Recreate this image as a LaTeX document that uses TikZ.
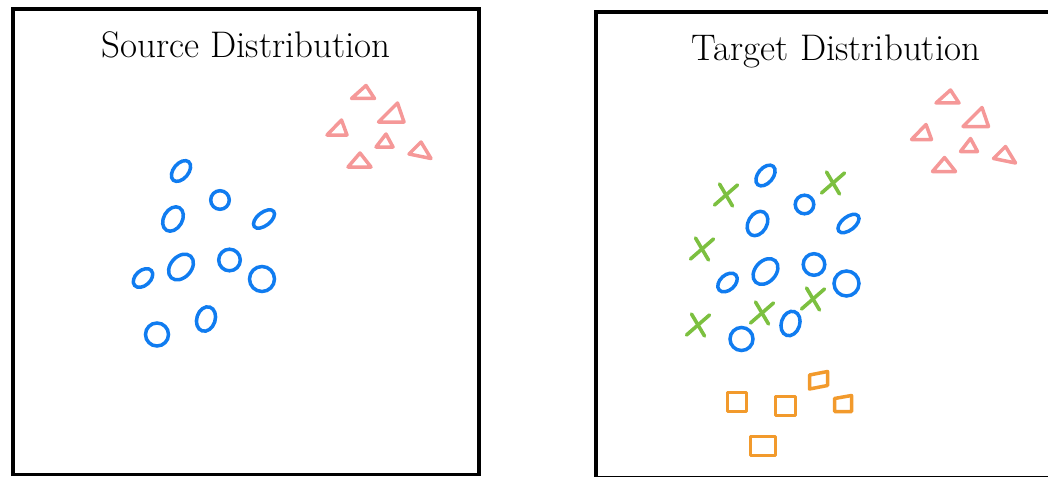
\documentclass[tikz,border=0pt]{standalone}
\usepackage{xcolor}
\definecolor{ptblue}{RGB}{16,124,240}
\definecolor{ptpink}{RGB}{245,152,152}
\definecolor{ptgreen}{RGB}{124,192,64}
\definecolor{ptorange}{RGB}{242,154,44}

\tikzset{
  frame/.style={draw=black, line width=3.8pt},
  title/.style={anchor=base, inner sep=0pt, font=\fontsize{37}{42}\selectfont},
  circ/.style={draw=ptblue, line width=3.5pt},
  tri/.style={draw=ptpink, line width=3.5pt, line join=round},
  crossmark/.style={draw=ptgreen, line width=3.6pt, line cap=round},
  quad/.style={draw=ptorange, line width=3.5pt, line join=round}
}

% clusters shared by both panels: triangles and circles
\newcommand{\sharedmarks}{%
  \draw[tri] (366,85.5) -- (351.5,98.5) -- (374.5,98.5) -- cycle;
  \draw[tri] (397.5,103) -- (378.5,122) -- (404,122) -- cycle;
  \draw[tri] (341.5,120) -- (327,135) -- (347,135) -- cycle;
  \draw[tri] (386,134) -- (376,147) -- (393,147) -- cycle;
  \draw[tri] (421,142) -- (409,154) -- (431,158.5) -- cycle;
  \draw[tri] (360,153) -- (348,167) -- (371,167) -- cycle;
  \draw[circ] (181,171) ellipse [x radius=12, y radius=7.5, rotate=50];
  \draw[circ] (220,200) circle [radius=9.3];
  \draw[circ] (173,219) ellipse [x radius=13, y radius=9.3, rotate=60];
  \draw[circ] (264,219) ellipse [x radius=12.3, y radius=6.6, rotate=38];
  \draw[circ] (181,267) ellipse [x radius=14.5, y radius=10.4, rotate=48];
  \draw[circ] (229.5,260) circle [radius=10.8];
  \draw[circ] (143,278) ellipse [x radius=11.2, y radius=7.5, rotate=42];
  \draw[circ] (262,279) circle [radius=12.5];
  \draw[circ] (206,319) ellipse [x radius=12.5, y radius=9.2, rotate=72];
  \draw[circ] (157,334.5) circle [radius=11.5];
}

% one green cross centred at the given point
\newcommand{\xmark}[1]{%
  \draw[crossmark] ($#1+(-11.5,10)$) -- ($#1+(11.5,-10)$);
  \draw[crossmark] ($#1+(-6.5,-11)$) -- ($#1+(6.5,11)$);
}

\usetikzlibrary{calc}

\begin{document}
\begin{tikzpicture}[x=1pt, y=-1pt]
  \useasboundingbox (0,0) rectangle (1048,476);
  \begin{scope}
    \clip (0,0) rectangle (1048,476);

    % source panel
    \draw[frame] (13,9.2) rectangle (479,474.5);
    \node[title] (srctitle) at (246,57.3) {Source Distribution};
    \sharedmarks

    % target panel
    \draw[frame] (596,12.3) rectangle (1062,478);
    \node[title] (tgttitle) at (836,60.3) {Target Distribution};
    \begin{scope}[shift={(584.5,4.5)}]
      \sharedmarks
    \end{scope}

    \xmark{(726,195)}
    \xmark{(833,183)}
    \xmark{(702,249)}
    \xmark{(813,299)}
    \xmark{(762,313)}
    \xmark{(698,325)}

    \draw[quad] (727.5,392.5) rectangle (746.5,411.5);
    \draw[quad] (775.5,396.5) rectangle (795.5,415.5);
    \draw[quad] (809.5,375) -- (827.5,371.5) -- (827.5,385.5) -- (809.5,389) -- cycle;
    \draw[quad] (834.5,398.5) -- (851.5,395.5) -- (851.5,411.5) -- (834.5,411.5) -- cycle;
    \draw[quad] (750.5,436.5) rectangle (775.5,455.5);
  \end{scope}
\end{tikzpicture}
\end{document}
